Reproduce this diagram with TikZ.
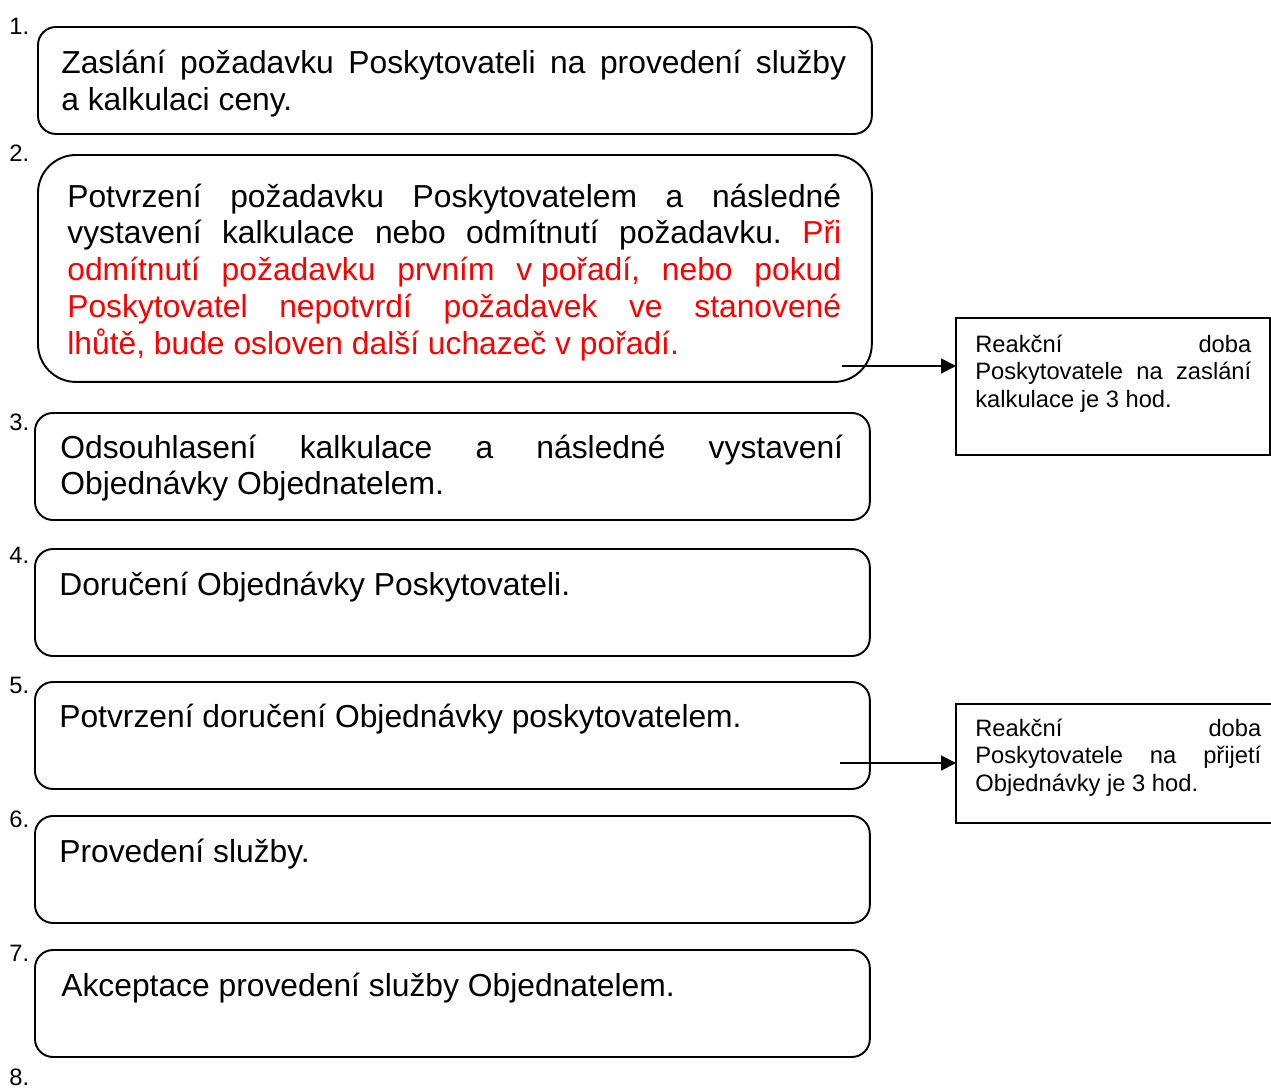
\documentclass[tikz,border=0pt]{standalone}
\usepackage{fontspec}
\setmainfont{Liberation Sans}
\usetikzlibrary{arrows.meta}
\frenchspacing
\tolerance=10000
\hbadness=10000
\tikzset{
  stepbox/.style={draw, line width=1.1pt, rounded corners=0.36cm, inner sep=0pt, outer sep=0pt, anchor=north west, minimum width=16.7cm, minimum height=2.14cm},
  notebox/.style={draw, line width=1.1pt, inner sep=0pt, outer sep=0pt, anchor=north west},
  steptext/.style={anchor=base west, inner sep=0pt, align=justify, font=\fontsize{18.1}{21}\selectfont},
  notetext/.style={anchor=base west, inner sep=0pt, align=justify, font=\fontsize{13.5}{15.9}\selectfont},
  num/.style={anchor=base west, inner sep=0pt, font=\fontsize{13.5}{15.9}\selectfont},
  arr/.style={line width=1.1pt, -{Triangle[length=8.5pt,width=8.5pt]}}
}
\begin{document}
\begin{tikzpicture}[x=0.02cm, y=-0.02cm]
\useasboundingbox (0,0) rectangle (1271,1088);

% boxes
\node (s1) [stepbox, minimum width=16.68cm] at (38,27) {};
\node (s2) [stepbox, minimum width=16.68cm, minimum height=4.54cm, rounded corners=0.76cm] at (38,155) {};
\node (s3) [stepbox] at (35,413) {};
\node (s4) [stepbox] at (35,549) {};
\node (s5) [stepbox] at (35,682) {};
\node (s6) [stepbox] at (35,816) {};
\node (s7) [stepbox] at (35,950) {};
\node (r1) [notebox, minimum width=6.28cm, minimum height=2.74cm] at (956,318) {};
\node (r2) [notebox, minimum width=6.6cm, minimum height=2.38cm] at (956,704) {};

% numbers
\node (n1) [num] at (9,35) {1.};
\node (n2) [num] at (9,161) {2.};
\node (n3) [num] at (9,430) {3.};
\node (n4) [num] at (9,563) {4.};
\node (n5) [num] at (9,693) {5.};
\node (n6) [num] at (9,827) {6.};
\node (n7) [num] at (9,961) {7.};
\node (n8) [num] at (9,1085) {8.};

% texts
\node (t1) [steptext, text width=15.7cm] at (61,74)
  {Zaslání požadavku Poskytovateli na provedení služby\linebreak a kalkulaci ceny.};
\node (t2) [steptext, text width=15.48cm] at (67,207)
  {Potvrzení požadavku Poskytovatelem a následné\linebreak
   vystavení kalkulace nebo odmítnutí požadavku. \color{red}Při\linebreak
   odmítnutí požadavku prvním \mbox{v pořadí}, nebo pokud\linebreak
   Poskytovatel nepotvrdí požadavek ve stanovené\linebreak
   lhůtě, bude osloven další uchazeč v~pořadí.};
\node (t3) [steptext, text width=15.66cm] at (60,458)
  {Odsouhlasení kalkulace a následné vystavení\linebreak Objednávky Objednatelem.};
\node (t4) [steptext, text width=15.66cm] at (59,595) {Doručení Objednávky Poskytovateli.};
\node (t5) [steptext, text width=15.66cm] at (59,727) {Potvrzení doručení Objednávky poskytovatelem.};
\node (t6) [steptext, text width=15.66cm] at (59,862) {Provedení služby.};
\node (t7) [steptext, text width=15.66cm] at (61,996) {Akceptace provedení služby Objednatelem.};
\node (m1) [notetext, text width=5.52cm] at (975,352)
  {Reakční doba\linebreak Poskytovatele na zaslání\linebreak kalkulace je 3 hod.};
\node (m2) [notetext, text width=5.72cm] at (975,736)
  {Reakční doba\linebreak Poskytovatele na přijetí\linebreak Objednávky je 3 hod.};

% arrows
\coordinate (c1) at (842,366);
\coordinate (c2) at (840,763);
\draw[arr] (c1) -- (c1 -| r1.west);
\draw[arr] (c2) -- (c2 -| r2.west);
\end{tikzpicture}
\end{document}
